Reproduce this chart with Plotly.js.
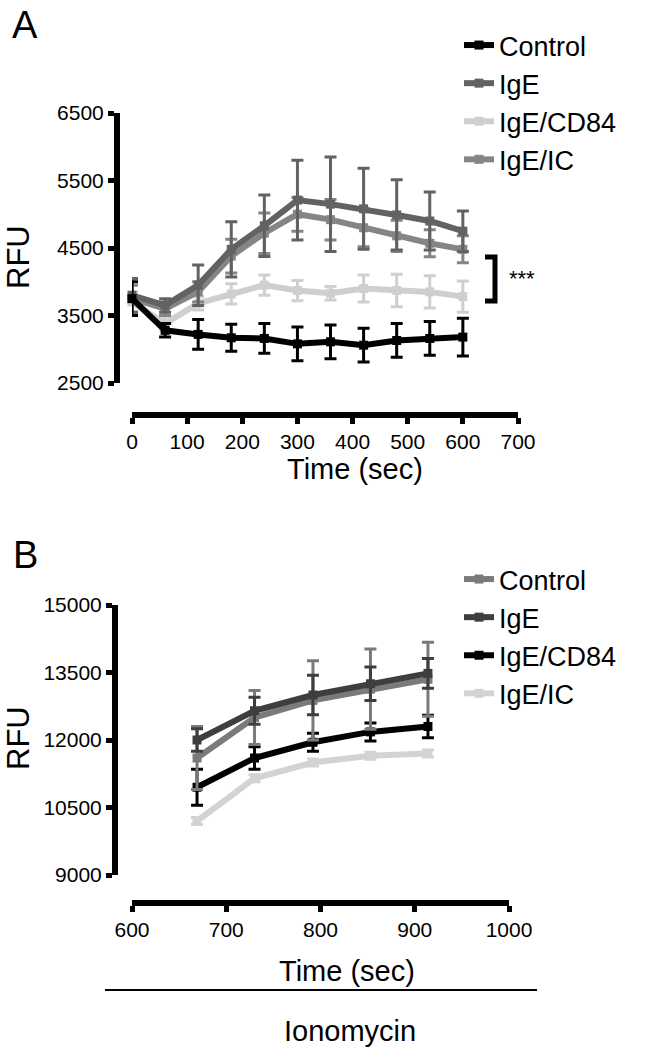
<!DOCTYPE html>
<html><head><meta charset="utf-8">
<script src="https://cdn.plot.ly/plotly-3.0.1.min.js"></script>
<style>html,body{margin:0;padding:0;background:#fff}#g{width:646px;height:1050px}</style>
</head><body><div id="g"></div>
<script>
// Panel A
const timeA = [0, 60, 120, 180, 240, 300, 360, 420, 480, 540, 600];
const ctrlA = [3750, 3280, 3220, 3170, 3160, 3080, 3110, 3060, 3130, 3160, 3180];
const ctrlAErr = [250, 100, 220, 200, 220, 250, 250, 250, 250, 250, 280];
const igeA = [3800, 3650, 3950, 4480, 4830, 5210, 5150, 5080, 4990, 4900, 4750];
const igeAErr = [250, 100, 300, 410, 455, 590, 700, 600, 520, 430, 300];
const cd84A = [3700, 3380, 3680, 3820, 3950, 3870, 3830, 3900, 3870, 3850, 3780];
const cd84AErr = [150, 100, 100, 150, 150, 150, 100, 200, 240, 240, 230];
const icA = [3750, 3600, 3850, 4380, 4720, 5000, 4920, 4800, 4680, 4570, 4480];
const icAErr = [200, 100, 150, 250, 300, 250, 300, 280, 230, 200, 200];
const yTicksA = [2500, 3500, 4500, 5500, 6500];
const xTicksA = [0, 100, 200, 300, 400, 500, 600, 700];

// Panel B
const timeB = [669, 730, 792, 853, 914];
const ctrlB = [11600, 12500, 12880, 13130, 13350];
const ctrlBErr = [700, 600, 880, 890, 820];
const igeB = [12000, 12650, 13000, 13250, 13480];
const igeBErr = [250, 300, 440, 370, 330];
const cd84B = [10950, 11600, 11950, 12180, 12300];
const cd84BErr = [400, 250, 200, 200, 250];
const icB = [10200, 11150, 11500, 11650, 11700];
const icBErr = [80, 80, 80, 80, 80];
const yTicksB = [9000, 10500, 12000, 13500, 15000];
const xTicksB = [600, 700, 800, 900, 1000];

const seriesNames = ['Control', 'IgE', 'IgE/CD84', 'IgE/IC'];

const W = 646, H = 1050;
const px = v => v / W, py = v => 1 - v / H;
const FONT = 'Liberation Sans, Arial, sans-serif';

function tr(x, y, err, name, color, xa, ya, leg, rank) {
  return {
    x: x, y: y, name: name, type: 'scatter', mode: 'lines+markers',
    xaxis: xa, yaxis: ya, legend: leg, legendrank: rank, cliponaxis: false,
    line: {color: color, width: 6},
    marker: {color: color, size: 9, symbol: 'square'},
    error_y: {type: 'data', array: err, visible: true, color: color, thickness: 3, width: 6}
  };
}

const data = [
  tr(timeA, cd84A, cd84AErr, seriesNames[2], '#cfcfcf', 'x', 'y', 'legend', 3),
  tr(timeA, icA, icAErr, seriesNames[3], '#858585', 'x', 'y', 'legend', 4),
  tr(timeA, igeA, igeAErr, seriesNames[1], '#626262', 'x', 'y', 'legend', 2),
  tr(timeA, ctrlA, ctrlAErr, seriesNames[0], '#000000', 'x', 'y', 'legend', 1),
  tr(timeB, icB, icBErr, seriesNames[3], '#d3d3d3', 'x2', 'y2', 'legend2', 4),
  tr(timeB, cd84B, cd84BErr, seriesNames[2], '#000000', 'x2', 'y2', 'legend2', 3),
  tr(timeB, ctrlB, ctrlBErr, seriesNames[0], '#7a7a7a', 'x2', 'y2', 'legend2', 1),
  tr(timeB, igeB, igeBErr, seriesNames[1], '#3e3e3e', 'x2', 'y2', 'legend2', 2)
];

const axCommon = {
  showgrid: false, zeroline: false, showline: true, linecolor: '#000', linewidth: 6,
  ticks: 'outside', ticklen: 6, tickwidth: 5, tickcolor: '#000', tickformat: 'd',
  tickfont: {family: FONT, size: 21, color: '#000'}, fixedrange: true
};

const legCommon = {
  font: {family: FONT, size: 27, color: '#000'}, bgcolor: 'rgba(0,0,0,0)',
  xanchor: 'left', yanchor: 'top', traceorder: 'normal', tracegroupgap: 0,
  itemwidth: 30, borderwidth: 0
};

function ann(text, x, y, size, extra) {
  return Object.assign({text: text, x: px(x), y: py(y), xref: 'paper', yref: 'paper',
    xanchor: 'center', yanchor: 'middle', showarrow: false, borderpad: 0,
    font: {family: FONT, size: size, color: '#000'}}, extra || {});
}

const layout = {
  width: W, height: H, margin: {l: 0, r: 0, t: 0, b: 0},
  paper_bgcolor: '#fff', plot_bgcolor: 'rgba(0,0,0,0)', showlegend: true,
  font: {family: FONT, color: '#000'},
  xaxis: Object.assign({}, axCommon, {domain: [px(132), px(518)], range: [0, 700],
    tickvals: xTicksA, anchor: 'free', position: py(415)}),
  yaxis: Object.assign({}, axCommon, {domain: [py(383), py(113)], range: [2500, 6500],
    tickvals: yTicksA, anchor: 'free', position: px(117)}),
  xaxis2: Object.assign({}, axCommon, {domain: [px(132), px(509)], range: [600, 1000],
    tickvals: xTicksB, anchor: 'free', position: py(903)}),
  yaxis2: Object.assign({}, axCommon, {domain: [py(875), py(605)], range: [9000, 15000],
    tickvals: yTicksB, anchor: 'free', position: px(115)}),
  legend: Object.assign({}, legCommon, {x: px(459), y: py(21)}),
  legend2: Object.assign({}, legCommon, {x: px(459), y: py(555)}),
  annotations: [
    ann('A', 25, 25, 38),
    ann('B', 25, 555, 38),
    ann('RFU', 18, 257, 31, {textangle: -90}),
    ann('RFU', 18, 738, 31, {textangle: -90}),
    ann('Time (sec)', 355, 469, 29),
    ann('Time (sec)', 347, 971, 29),
    ann('Ionomycin', 350, 1031, 29),
    ann('***', 508, 278, 22, {xanchor: 'left'})
  ],
  shapes: [
    {type: 'path', xref: 'paper', yref: 'paper',
     path: `M ${px(485)} ${py(257)} L ${px(495)} ${py(257)} L ${px(495)} ${py(301)} L ${px(485)} ${py(301)}`,
     line: {color: '#000', width: 5}},
    {type: 'line', xref: 'paper', yref: 'paper', x0: px(105), x1: px(537), y0: py(990), y1: py(990),
     line: {color: '#000', width: 2}}
  ]
};

Plotly.newPlot('g', data, layout, {staticPlot: true, displayModeBar: false});
</script>
</body></html>
